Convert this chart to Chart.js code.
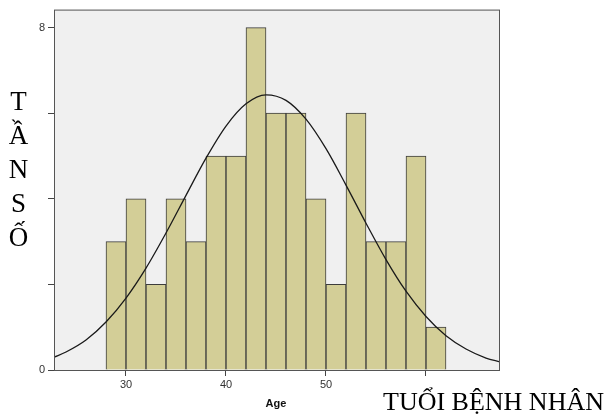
<!DOCTYPE html>
<html>
<head>
<meta charset="utf-8">
<script src="https://cdn.jsdelivr.net/npm/chart.js@4"></script>
<style>
  body { margin: 0; background: #fff; }
  #wrap { position: relative; width: 609px; height: 416px; }
  .lbl { position: absolute; color: #000; white-space: nowrap; }
  #ylab { left: 5px; top: 84px; width: 27px; text-align: center; font: 27px/34px "Liberation Serif", serif; white-space: normal; }
  #xlab2 { left: 383px; top: 387px; font: 26px/30px "Liberation Serif", serif; }
  #age { left: 246px; top: 396px; width: 60px; text-align: center; font: bold 11px/14px "Liberation Sans", Arial, sans-serif; color: #111; }
</style>
</head>
<body>
<div id="wrap">
  <canvas id="myChart" width="609" height="416"></canvas>
  <div class="lbl" id="ylab">T<br>Ầ<br>N<br>S<br>Ố</div>
  <div class="lbl" id="xlab2">TUỔI BỆNH NHÂN</div>
  <div class="lbl" id="age">Age</div>
</div>
<script>
const ctx = document.querySelector("#myChart");

// histogram bins (age, width 2) - centre of each bin
const binCenters = [29, 31, 33, 35, 37, 39, 41, 43, 45, 47, 49, 51, 53, 55, 57, 59, 61];
const counts = [3, 4, 2, 4, 3, 5, 5, 8, 6, 6, 4, 2, 6, 3, 3, 5, 1];

// normal curve
const curveX = [22.8, 24, 26, 28, 30, 32, 34, 36, 38, 40, 42, 44, 46, 48, 50, 52, 54, 56, 58, 60, 62, 64, 66, 67.4];
const curveY = [0.30, 0.42, 0.70, 1.12, 1.68, 2.38, 3.20, 4.08, 4.95, 5.70, 6.22, 6.43, 6.30, 5.86, 5.17, 4.32, 3.43, 2.58, 1.84, 1.25, 0.80, 0.49, 0.28, 0.19];

const xTickLabels = [30, 40, 50];
const yTickLabels = [0, 8];

const plotBox = {
  id: "plotBox",
  beforeDatasetsDraw(chart) {
    const a = chart.chartArea;
    const c = chart.ctx;
    c.save();
    c.fillStyle = "#f0f0f0";
    c.fillRect(a.left, a.top, a.right - a.left, a.bottom - a.top);
    c.restore();
  },
  afterDraw(chart) {
    const a = chart.chartArea;
    const c = chart.ctx;
    c.save();
    c.strokeStyle = "#555";
    c.lineWidth = 1;
    c.strokeRect(a.left + 0.5, a.top + 0.5, a.right - a.left - 1, a.bottom - a.top);
    c.restore();
  }
};

const config = {
  data: {
    datasets: [
      {
        type: "line",
        data: curveX.map((x, i) => ({ x: x, y: curveY[i] })),
        borderColor: "#1a1a1a",
        borderWidth: 1.3,
        pointRadius: 0,
        cubicInterpolationMode: "monotone",
        fill: false
      },
      {
        type: "bar",
        data: binCenters.map((x, i) => ({ x: x, y: counts[i] })),
        backgroundColor: "#d3ce97",
        borderColor: "#3c3c3c",
        borderWidth: 1,
        barPercentage: 1,
        categoryPercentage: 1
      }
    ]
  },
  options: {
    responsive: false,
    animation: false,
    layout: { padding: { top: 7, right: 109, left: 0, bottom: 0 } },
    plugins: { legend: { display: false }, tooltip: { enabled: false } },
    scales: {
      x: {
        type: "linear",
        min: 22.8,
        max: 67.4,
        offset: false,
        afterFit: (s) => { s.height = 46; },
        border: { display: false },
        grid: { offset: false, drawOnChartArea: false, drawTicks: true, tickLength: 6, tickColor: "#444" },
        ticks: {
          stepSize: 10,
          includeBounds: false,
          padding: 2,
          color: "#333",
          font: { family: "Liberation Sans", size: 11 },
          maxRotation: 0,
          callback: (v) => xTickLabels.includes(v) ? String(v) : ""
        }
      },
      y: {
        min: 0,
        max: 8.42,
        afterFit: (s) => { s.width = 54; },
        border: { display: false },
        grid: { drawOnChartArea: false, drawTicks: true, tickLength: 6, tickColor: "#444" },
        ticks: {
          stepSize: 2,
          includeBounds: false,
          padding: 3,
          color: "#333",
          font: { family: "Liberation Sans", size: 11 },
          callback: (v) => yTickLabels.includes(v) ? String(v) : ""
        }
      }
    }
  },
  plugins: [plotBox]
};

const chart = new Chart(ctx, config);
</script>
</body>
</html>
